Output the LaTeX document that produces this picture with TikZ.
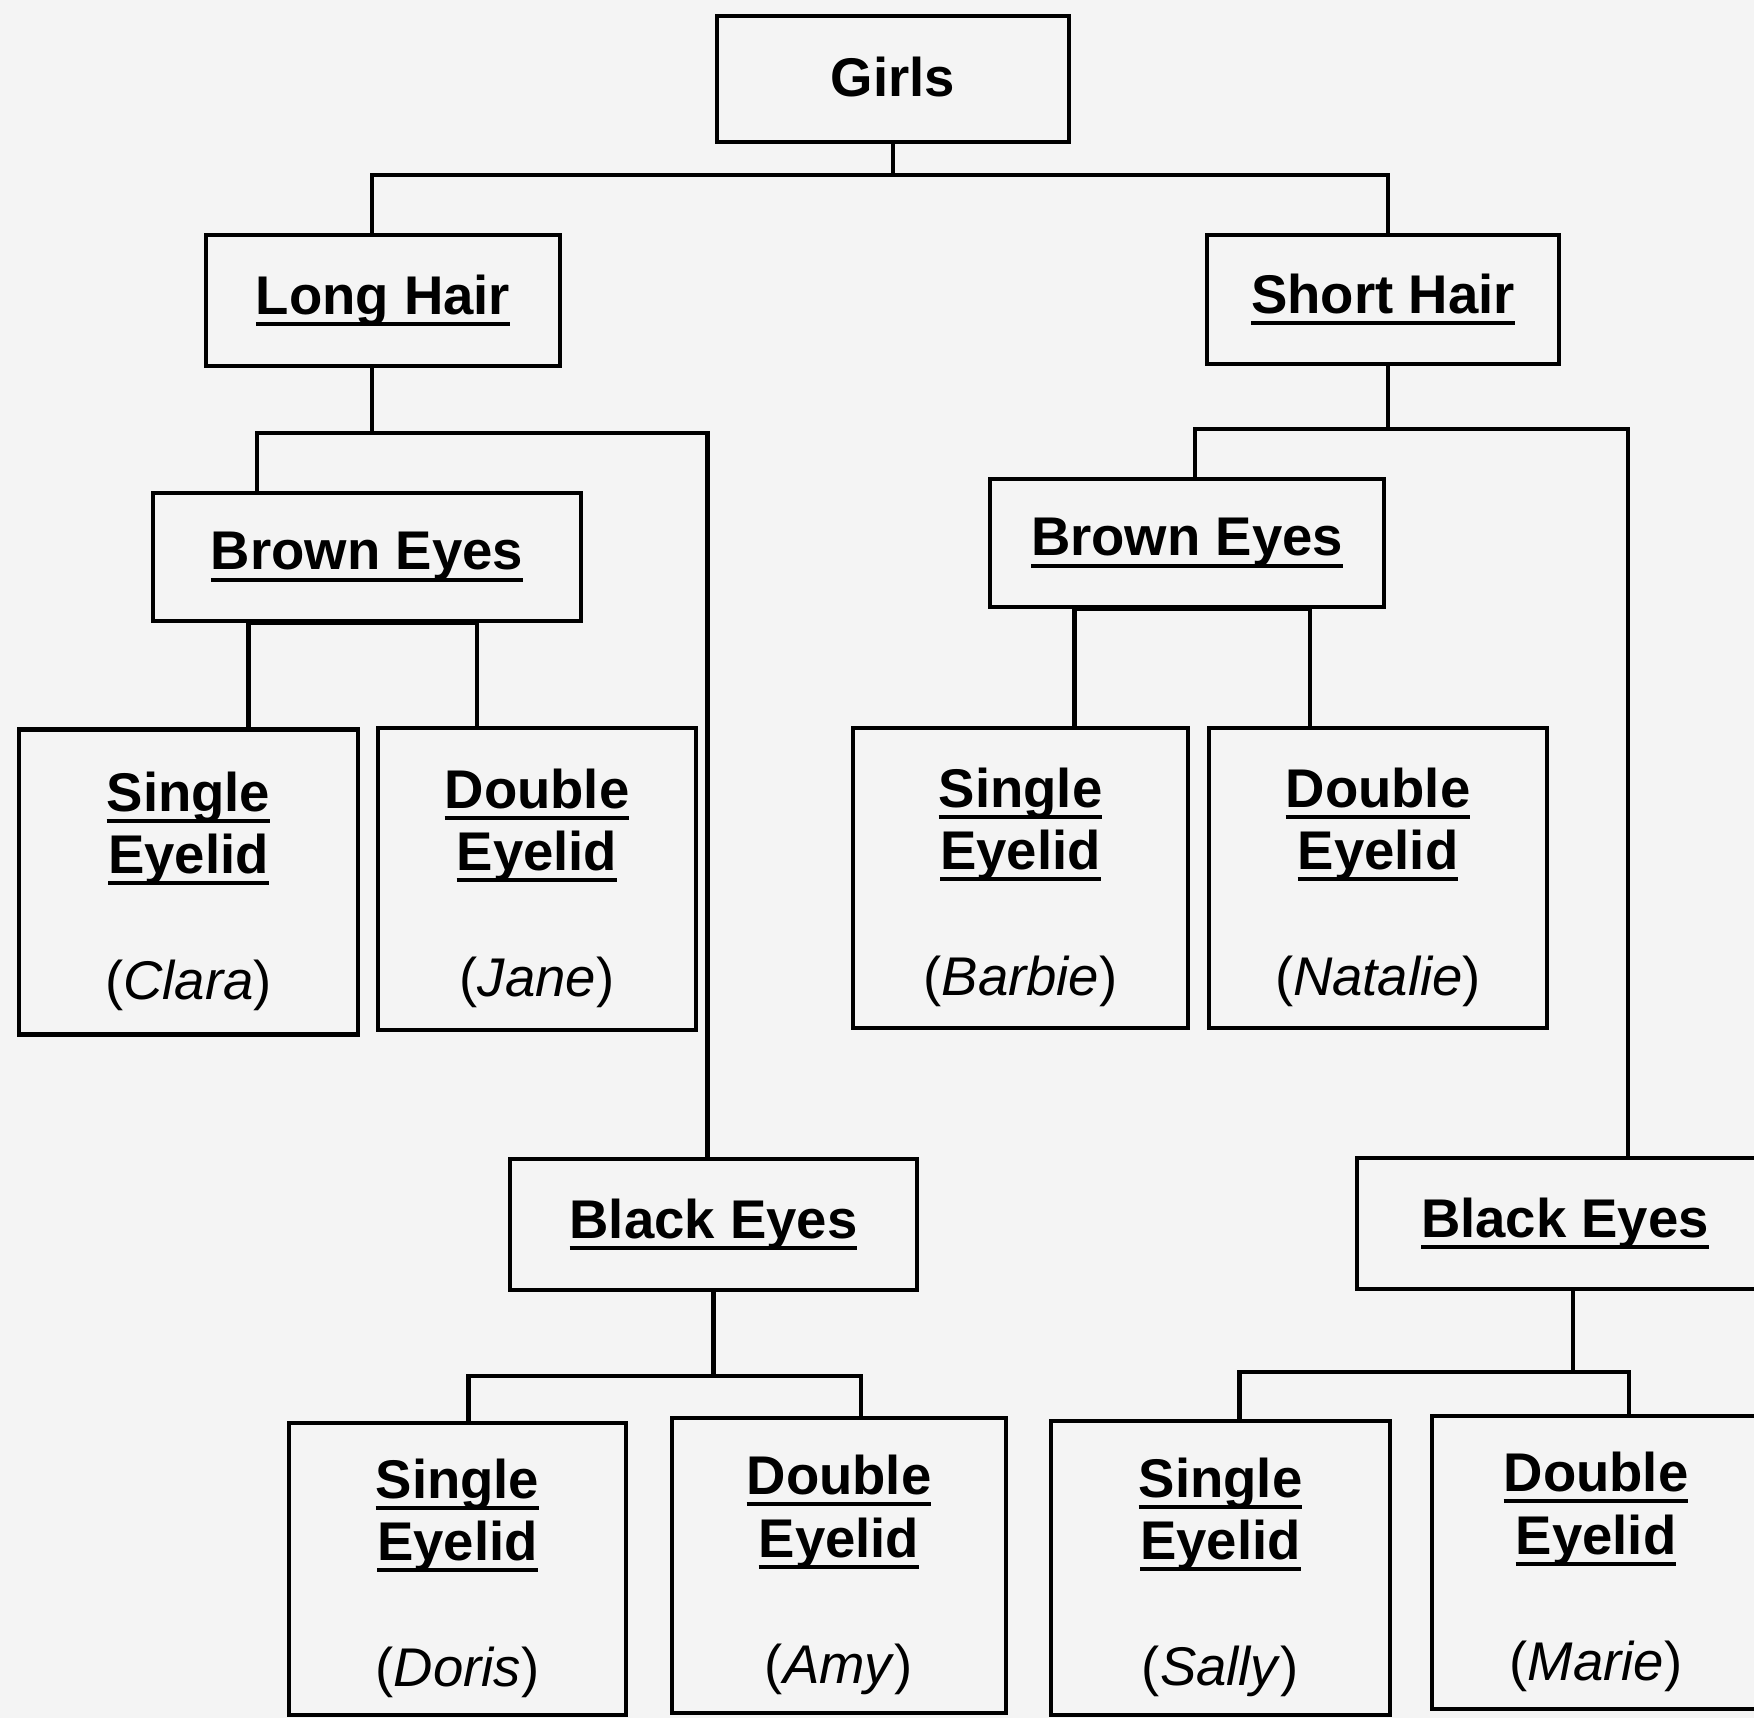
\documentclass[tikz,border=0pt]{standalone}
\usepackage{fontspec}
\setmainfont{Liberation Sans}
\usepackage{tikz}
\definecolor{paper}{RGB}{244,244,244}
\newcommand{\thickul}[1]{\leavevmode\setbox0\hbox{#1}\rlap{\rule[-3.3pt]{\wd0}{1.1pt}}\box0}
\newcommand{\eyelidtext}[2]{\rule{0pt}{16.5pt}\thickul{#1}\\\thickul{Eyelid}\\[18pt]{\mdseries(\textit{#2})}}

\begin{document}
\begin{tikzpicture}[x=0.01cm, y=-0.01cm, line width=1.2pt,
  box/.style={draw, black, line width=1.2pt, align=center, inner sep=0pt,
    font=\fontsize{15.5}{17.8}\selectfont\bfseries}]
\useasboundingbox[fill=paper] (0,0) rectangle (1754,1718);

\node[box, minimum width=3.52cm, minimum height=1.26cm] (girls) at (893,79) {\raisebox{1.2pt}{Girls}};
\node[box, minimum width=3.54cm, minimum height=1.31cm] (longhair) at (383,300.5) {\thickul{Long Hair}};
\node[box, minimum width=3.52cm, minimum height=1.29cm] (shorthair) at (1383,299.5) {\thickul{Short Hair}};
\node[box, minimum width=4.28cm, minimum height=1.28cm] (brownL) at (367,557) {\thickul{Brown Eyes}};
\node[box, minimum width=3.94cm, minimum height=1.28cm] (brownR) at (1187,543) {\thickul{Brown Eyes}};
\node[box, minimum width=4.07cm, minimum height=1.31cm] (blackL) at (713.5,1224.5) {\thickul{Black Eyes}};
\node[box, minimum width=4.16cm, minimum height=1.31cm] (blackR) at (1565,1223.5) {\thickul{Black Eyes}};

\node[box, minimum width=3.39cm, minimum height=3.05cm] (clara) at (188.5,882) {\eyelidtext{Single}{Clara}};
\node[box, minimum width=3.18cm, minimum height=3.02cm] (jane) at (537,879) {\eyelidtext{Double}{Jane}};
\node[box, minimum width=3.35cm, minimum height=3.00cm] (barbie) at (1020.5,878) {\eyelidtext{Single}{Barbie}};
\node[box, minimum width=3.38cm, minimum height=3.00cm] (natalie) at (1378,878) {\eyelidtext{Double}{Natalie}};
\node[box, minimum width=3.37cm, minimum height=2.92cm] (doris) at (457.5,1569) {\eyelidtext{Single}{Doris}};
\node[box, minimum width=3.34cm, minimum height=2.95cm] (amy) at (839,1565.5) {\eyelidtext{Double}{Amy}};
\node[box, minimum width=3.39cm, minimum height=2.94cm] (sally) at (1220.5,1568) {\eyelidtext{Single}{Sally}};
\node[box, minimum width=3.28cm, minimum height=2.93cm] (marie) at (1596,1562.5) {\eyelidtext{Double}{Marie}};

\draw (girls.south) -- ++(0,31);
\draw ([xshift=-0.11cm]longhair.north) |- ([yshift=-0.31cm]girls.south) -| ([xshift=0.05cm]shorthair.north);

\draw ([xshift=-0.11cm]longhair.south) -- ++(0,65);
\draw ([xshift=-1.1cm]brownL.north) |- ([yshift=-0.65cm]longhair.south) -| ([xshift=-0.06cm]blackL.north);
\draw ([xshift=0.05cm]shorthair.south) -- ++(0,63);
\draw ([xshift=0.08cm]brownR.north) |- ([yshift=-0.63cm]shorthair.south) -| ([xshift=0.63cm]blackR.north);

\draw ([xshift=0.6cm]clara.north) |- (brownL.south);
\draw ([xshift=-0.6cm]jane.north) |- (brownL.south);
\draw ([xshift=0.54cm]barbie.north) |- (brownR.south);
\draw ([xshift=-0.68cm]natalie.north) |- (brownR.south);

\draw (blackL.south) -- ++(0,84);
\draw ([xshift=0.11cm]doris.north) |- ([yshift=-0.84cm]blackL.south) -| ([xshift=0.22cm]amy.north);
\draw ([xshift=0.08cm]blackR.south) -- ++(0,81);
\draw ([xshift=0.19cm]sally.north) |- ([yshift=-0.81cm]blackR.south) -| ([xshift=0.33cm]marie.north);
\end{tikzpicture}
\end{document}
